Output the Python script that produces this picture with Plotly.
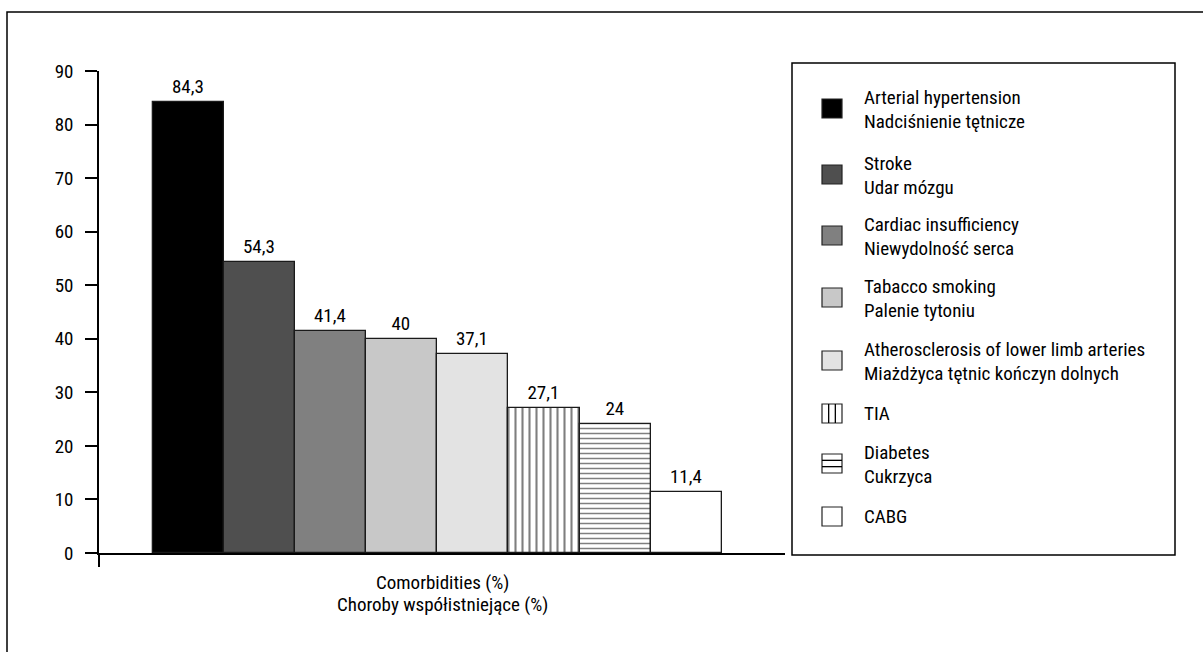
import plotly.graph_objects as go

# Comorbidities, share of patients (%)
names_en = ["Arterial hypertension", "Stroke", "Cardiac insufficiency", "Tabacco smoking",
            "Atherosclerosis of lower limb arteries", "TIA", "Diabetes", "CABG"]
names_pl = ["Nadciśnienie tętnicze", "Udar mózgu", "Niewydolność serca", "Palenie tytoniu",
            "Miażdżyca tętnic kończyn dolnych", "", "Cukrzyca", ""]
values = [84.3, 54.3, 41.4, 40, 37.1, 27.1, 24, 11.4]

fills = ["#000000", "#4f4f4f", "#808080", "#c8c8c8", "#e3e3e3", "#ffffff", "#ffffff", "#ffffff"]
patterns = ["", "", "", "", "", "|", "-", ""]
pattern_sizes = [8, 8, 8, 8, 8, 7, 5, 8]

y_ticks = [0, 10, 20, 30, 40, 50, 60, 70, 80, 90]

FONT = "Liberation Sans Narrow, Arial Narrow, Roboto Condensed, DejaVu Sans Condensed, sans-serif"
FS = 19
W, H = 1203, 652

# plot area in pixels
PL, PR, PT, PB = 99, 785, 71, 553


def fmt(v):
    return f"{v:g}".replace(".", ",")


fig = go.Figure()
for i, v in enumerate(values):
    marker = dict(color=fills[i], line=dict(color="#1a1a1a", width=1.3))
    if patterns[i]:
        marker["pattern"] = dict(shape=patterns[i], fgcolor="#000000", bgcolor="#ffffff",
                                 size=pattern_sizes[i], solidity=0.3, fillmode="overlay")
    fig.add_trace(go.Bar(
        x=[i], y=[v], width=1.0,
        marker=marker,
        text=[fmt(v)],
        textposition="outside",
        textfont=dict(family=FONT, size=FS, color="#000000"),
        cliponaxis=False,
        showlegend=False,
        hoverinfo="skip",
    ))

# x range chosen so the first bar sits away from the y axis
x0, x1 = -1.26, 8.39


def to_xp(v):
    return (v - PL) / (PR - PL)


def to_yp(v):
    return (PB - v) / (PB - PT)


# outer frame, running off the right and bottom edges
shapes = [dict(type="rect", xref="paper", yref="paper",
               x0=to_xp(7), x1=to_xp(1210), y0=to_yp(660), y1=to_yp(12),
               line=dict(color="#000000", width=1.5), fillcolor="rgba(0,0,0,0)", layer="below")]

# legend box
shapes.append(dict(type="rect", xref="paper", yref="paper",
                   x0=to_xp(792), x1=to_xp(1175), y0=to_yp(555), y1=to_yp(63),
                   line=dict(color="#000000", width=1.5), fillcolor="#ffffff"))

annotations = []
row_tops = [99, 165, 226, 288, 351, 404, 454, 507]
sw_x0, sw_x1 = 822, 842
for i, top in enumerate(row_tops):
    sx0, sx1, sy0, sy1 = sw_x0, sw_x1, top, top + 19
    shapes.append(dict(type="rect", xref="paper", yref="paper",
                       x0=to_xp(sx0), x1=to_xp(sx1), y0=to_yp(sy1), y1=to_yp(sy0),
                       line=dict(color="#222222", width=1.2), fillcolor=fills[i]))
    if patterns[i] == "|":
        for k in (1, 2):
            xx = sx0 + (sx1 - sx0) * k / 3
            shapes.append(dict(type="line", xref="paper", yref="paper",
                               x0=to_xp(xx), x1=to_xp(xx), y0=to_yp(sy1), y1=to_yp(sy0),
                               line=dict(color="#000000", width=1.3)))
    elif patterns[i] == "-":
        for k in (1, 2):
            yy = sy0 + (sy1 - sy0) * k / 3
            shapes.append(dict(type="line", xref="paper", yref="paper",
                               x0=to_xp(sx0), x1=to_xp(sx1), y0=to_yp(yy), y1=to_yp(yy),
                               line=dict(color="#000000", width=1.3)))
    mid = top + 9.5
    if names_pl[i]:
        lines = [(names_en[i], mid - 11), (names_pl[i], mid + 13)]
    else:
        lines = [(names_en[i], mid)]
    for txt, yc in lines:
        annotations.append(dict(text=txt, xref="paper", yref="paper",
                                x=to_xp(862), y=to_yp(yc), xanchor="left", yanchor="middle",
                                showarrow=False, font=dict(family=FONT, size=FS, color="#000000")))

# two-line axis title
for txt, yc in (("Comorbidities (%)", 582), ("Choroby współistniejące (%)", 604)):
    annotations.append(dict(text=txt, xref="paper", yref="paper", x=0.5, y=to_yp(yc),
                            xanchor="center", yanchor="middle", showarrow=False,
                            font=dict(family=FONT, size=FS, color="#000000")))

fig.update_layout(
    width=W, height=H,
    margin=dict(l=PL, r=W - PR, t=PT, b=H - PB),
    paper_bgcolor="#ffffff", plot_bgcolor="#ffffff",
    bargap=0, barmode="overlay",
    font=dict(family=FONT, size=FS, color="#000000"),
    shapes=shapes,
    annotations=annotations,
    xaxis=dict(range=[x0, x1], showgrid=False, zeroline=False, showline=True,
               linecolor="#000000", linewidth=1.5, tickvals=[x0], ticktext=[""],
               ticks="outside", ticklen=12, tickwidth=1.5, tickcolor="#000000",
               fixedrange=True),
    yaxis=dict(range=[0, 90], tickvals=y_ticks, showgrid=False, zeroline=False,
               showline=True, linecolor="#000000", linewidth=1.5,
               ticks="outside", ticklen=12, tickwidth=1.5, tickcolor="#000000",
               tickfont=dict(family=FONT, size=FS, color="#000000"), ticklabelstandoff=8,
               fixedrange=True),
)

fig.write_html("out.html", config={"displayModeBar": False})
